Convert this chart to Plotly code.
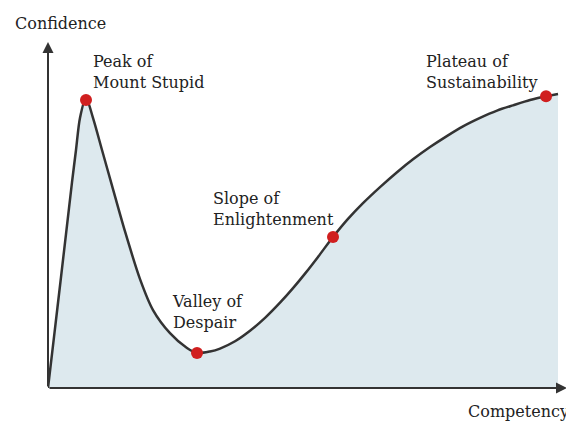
# Curva de Dunning-Kruger recriada com plotly.
import plotly.graph_objects as go

# Pontos da curva (competência x confiança).
competencia = [0.00, 1.18, 2.55, 3.53, 4.71, 5.49, 6.27, 7.45, 8.82, 10.59,
               12.55, 15.10, 18.04, 20.59, 23.92, 27.25, 29.22, 31.76, 33.73, 36.67,
               39.61, 42.55, 45.49, 48.04, 50.59, 52.94, 55.88, 58.82, 61.76, 65.10,
               68.43, 71.57, 74.90, 78.04, 81.37, 84.71, 88.04, 91.18, 94.51, 97.65,
               100.00]
confianca = [0, 17.5, 38.0, 52.7, 70.5, 81.5, 92.5, 99.3, 92.5, 81.5,
             69.3, 53.6, 37.3, 26.7, 18.8, 13.7, 12.0, 12.5, 13.5, 16.0,
             19.6, 24.0, 29.2, 34.2, 39.6, 44.9, 51.7, 57.9, 63.3, 68.8,
             73.9, 78.3, 82.5, 86.1, 89.6, 92.5, 95.0, 96.8, 98.6, 99.9,
             100.7]

# Pontos vermelhos das fases.
fase_x = [7.45, 29.22, 55.88, 97.65]
fase_y = [98.6, 12.0, 51.7, 99.9]
fase_nome = ["Peak of<br>Mount Stupid", "Valley of<br>Despair",
             "Slope of<br>Enlightenment", "Plateau of<br>Sustainability"]
# Posição dos textos de cada fase.
texto_x = [8.4, 23.9, 32.0, 73.7]
texto_y = [108.2, 26.0, 61.3, 108.2]

fonte = "DejaVu Serif"
cor_texto = "#222222"
cor_linha = "#333333"

fig = go.Figure()

# Área preenchida abaixo da curva.
fig.add_trace(go.Scatter(x=competencia, y=confianca, mode="lines",
                         line=dict(color=cor_linha, width=2.5, shape="spline", smoothing=0.8),
                         fill="tozeroy", fillcolor="#dde9ee",
                         cliponaxis=False, hoverinfo="skip"))

# Marcadores vermelhos.
fig.add_trace(go.Scatter(x=fase_x, y=fase_y, mode="markers",
                         marker=dict(color="#d01f1f", size=12),
                         cliponaxis=False, hoverinfo="skip"))

anotacoes = []
for nome, tx, ty in zip(fase_nome, texto_x, texto_y):
    anotacoes.append(dict(x=tx, y=ty, xref="x", yref="y", text=nome, showarrow=False,
                          xanchor="left", yanchor="middle", align="left",
                          font=dict(family=fonte, size=16, color=cor_texto)))

# Setas dos eixos.
anotacoes.append(dict(x=101.76, y=0, ax=0, ay=0, xref="x", yref="y", axref="x", ayref="y",
                      text="", showarrow=True, arrowhead=2, arrowsize=1.1,
                      arrowwidth=2, arrowcolor=cor_linha))
anotacoes.append(dict(x=0, y=118.5, ax=0, ay=0, xref="x", yref="y", axref="x", ayref="y",
                      text="", showarrow=True, arrowhead=2, arrowsize=1.1,
                      arrowwidth=2, arrowcolor=cor_linha))

# Títulos dos eixos (fora da área do gráfico, em coordenadas de papel).
anotacoes.append(dict(x=1.0077, y=-0.0665, xref="paper", yref="paper", text="Competency",
                      showarrow=False, xanchor="right", yanchor="middle",
                      font=dict(family=fonte, size=16, color=cor_texto)))
anotacoes.append(dict(x=-0.0674, y=1.0549, xref="paper", yref="paper", text="Confidence",
                      showarrow=False, xanchor="left", yanchor="middle",
                      font=dict(family=fonte, size=16, color=cor_texto)))

# A página tem 8px de margem no body, por isso a figura é um pouco menor.
fig.update_layout(width=566, height=413,
                  margin=dict(l=40, r=7, t=34, b=33),
                  plot_bgcolor="white", paper_bgcolor="white",
                  showlegend=False, annotations=anotacoes,
                  xaxis=dict(range=[0, 101.76], visible=False, fixedrange=True),
                  yaxis=dict(range=[0, 118.49], visible=False, fixedrange=True))

fig.write_html("out.html")
